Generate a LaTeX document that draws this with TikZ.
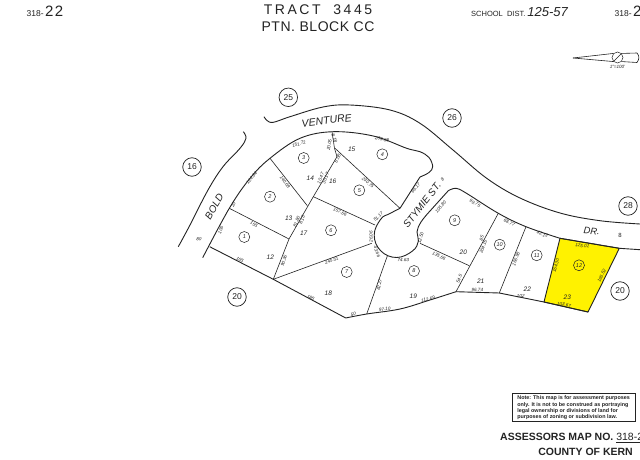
\documentclass[tikz,border=0pt]{standalone}
\usepackage{fontspec}
\setmainfont{Liberation Sans}
\usetikzlibrary{positioning}
\definecolor{parcel}{RGB}{255,242,0}
\definecolor{ink}{RGB}{35,35,35}

\begin{document}
\begin{tikzpicture}[
    x=1pt, y=-1pt,
    font=\rmfamily,
    color=ink,
    lotline/.style={draw=ink, line width=0.6pt, line join=round},
    roadline/.style={draw=ink, line width=0.9pt, line join=round},
    dim/.style={font=\fontsize{4.6}{5}\selectfont\itshape, inner sep=0pt, text=ink},
    lotno/.style={font=\fontsize{6.5}{7}\selectfont\itshape, inner sep=0pt},
    lotmark/.style={draw=ink, circle, line width=0.5pt, minimum size=11pt, inner sep=0pt, font=\fontsize{5.5}{6}\selectfont\itshape},
    pagemark/.style={draw=ink, circle, line width=0.7pt, minimum size=18.5pt, inner sep=0pt, font=\fontsize{8.5}{9}\selectfont},
    roadname/.style={font=\fontsize{10}{11}\selectfont\itshape, inner sep=0pt},
    heading/.style={font=\fontsize{14}{15}\selectfont\addfontfeature{LetterSpace=4}, inner sep=0pt},
    sheetno/.style={anchor=west, inner sep=0pt, font=\fontsize{8.5}{9}\selectfont}
]
\clip (0,0) rectangle (640,460);
\fill[white] (0,0) rectangle (640,460);

% Highlighted parcel
\path[fill=parcel, lotline, line width=0.9pt] (560,238.3) coordinate (lotTL) -- (619.3,248.3) coordinate (lotTR)
    -- (588,312) coordinate (lotBR) -- (544,302) coordinate (lotBL) -- cycle;

% Road edges
\draw[roadline] plot[smooth, tension=0.6] coordinates {(264,116.7) (267,120.5) (273.3,122.3) (290,116.7) (323,107) (350,105) (390,110) (420,123.3) (453,150) (486.7,178.3) (520,198) (560,213) (600,220.7) (640,224)};
\draw[roadline] plot[smooth, tension=0.6] coordinates {(178.3,246.7) (190,225) (208,190) (223,166.7) (240,148.3) (246,138.3) (243.3,131.7)};
\draw[roadline] plot[smooth, tension=0.6] coordinates {(202.7,257.7) (229.3,208.3) (250,178.3) (270,158.3) (300,138.3) (333.3,131.7) (373.3,136) (406.7,148.3) (420,151.7) (429,157.5) (432.7,166.7) (429,172.5) (420,177)};
\draw[roadline] (420,177) -- (400,208.3);
\draw[roadline] plot[smooth, tension=0.7] coordinates {(400,208.3) (390,213.5) (380.8,219.1) (374.2,235) (380.8,250.9) (396.7,257.5) (412.6,250.9) (418.4,241) (417,232) (421,222) (430,211)};
\draw[roadline] (430,211) -- (448.3,190.7);
\draw[roadline] plot[smooth, tension=0.6] coordinates {(448.3,190.7) (456,188.3) (466,193) (498.3,213.3) (526,226.7) (560,238.3)};
\draw[roadline] (lotTR) -- (640,249.7);
\draw[roadline] (lotTL) -- (lotTR);

% Lot boundaries
\draw[roadline] (209.7,246.7) -- (273.3,279.3) coordinate (spineA) -- (345.7,318) coordinate (southtip);
\draw[roadline] plot[smooth, tension=0.6] coordinates {(345.7,318) (366.7,314) (400,309) (430,300) (456,291.7)};
\draw[roadline] (456,291.7) coordinate (kink) -- (499.3,293) coordinate (kinkB) -- (lotBL);
\draw[roadline] (lotBL) -- (lotBR);
\draw[lotline] (270,158.3) -- (307.3,205.7);
\draw[lotline] (229.3,208.3) -- (289,239) coordinate (spineB);
\draw[lotline] (spineA) -- (spineB) -- (313.3,196.7) coordinate (spineC) -- (337,156.7) -- (334.5,148.3) -- (332,131.7);
\draw[lotline] (335,148.3) -- (400,208.3);
\draw[lotline] (spineC) -- (375,225);
\draw[lotline] (spineA) -- (371.7,243.3);
\draw[lotline] (366.7,314) -- (387.3,256);
\draw[lotline] (420,243.3) -- (469.3,265.7);
\draw[lotline] (498.3,213.3) -- (kink);
\draw[lotline] (526,226.7) -- (kinkB);

% Page references
\foreach \t/\x/\y in {25/288.3/97.3, 16/192/167, 26/452/118, 28/628/206, 20/237/297, 20/620/291} {
    \node[pagemark] at (\x,\y) {\t};
}

% Lot marks
\foreach \t/\x/\y in {1/244.3/237, 2/270/196.7, 3/303.7/158, 4/382.3/154.3, 5/359.3/190.3, 6/331/230.3, 7/346.7/272, 8/414/271, 9/454.7/220.3, 10/499.7/244.7, 11/536.7/255.3, 12/579/265.3} {
    \node[lotmark] at (\x,\y) {\t};
}

% Old lot numbers
\foreach \t/\x/\y in {12/270.3/257, 13/288.7/218.3, 14/310.3/178.3, 15/351.7/149.7, 16/332.7/181.3, 17/303.7/233.3, 18/328.3/293.3, 19/413.3/296, 20/463.3/252.7, 21/480.7/281.7, 22/527.3/289, 23/567.3/297.3} {
    \node[lotno] at (\x,\y) {\t};
}

% Dimensions
\foreach \t/\x/\y/\r in {124.04/251.7/178.3/50, 20/233.3/205/70, 105/220.7/230/70, 80/199/239.3/-10, 155/254/224.3/-28,
    165/240/260/-28, 90.36/284/260.7/72, 140.68/285/182.3/-55, 151.72/299/144/18, 239.88/382/139.3/-12,
    230.75/368/182.7/-42, 157.66/340/212/-22, 245.51/331.7/260.7/20, 185/310.7/297.7/-28, 50/353.3/314.3/5,
    97.10/384.7/309.3/5, 112.69/428/299.3/13, 74.63/403.3/260/-5, 82.27/379.3/285/77, 43.66/377/251.7/-70,
    26.06/371/236.7/90, 51.17/378.3/216.7/45, 66.17/415.7/187.7/50, 105.80/440.7/207.3/50, 99.75/475/203.3/-28,
    68.77/509.3/222.3/-25, 42.13/542.3/234.3/-20, 125.01/582.3/245.7/-8, 135.66/439/256.3/-25, 12.50/420.7/237.7/75,
    54.5/459.3/279/70, 96.74/477.3/289.7/0, 204.15/483.3/246.7/70, 85/481.7/238.3/70, 166.98/516/259/70,
    102/520.7/296/-5, 164.30/556/265.7/75, 165.52/601.7/275.7/65, 103.67/564/304.7/-10, 20.05/329.3/145/80,
    8.18/334.5/138.5/-70, 6.08/337.7/158.3/65, 10.47/320.7/178.3/70, 30.17/325.7/178.3/70, 81.80/296.7/221.7/70,
    8.18/302/220/70} {
    \node[dim, rotate=\r] at (\x,\y) {\t};
}

% Road names
\node[roadname, font=\fontsize{10.5}{11}\selectfont\itshape, rotate=7] (venture) at (326.7,120.7) {VENTURE};
\node[roadname, rotate=60] (bold) at (214.3,206.7) {BOLD};
\node[roadname, rotate=52] (stymie) at (422,205) {STYMIE ST.};
\node[roadname, font=\fontsize{9.5}{10}\selectfont\itshape, rotate=-5] (dr) at (591.7,231) {DR.};
\node[dim, rotate=52] (stwidth) at (442.5,180) {8};
\node[dim, font=\fontsize{6}{7}\selectfont] (drwidth) at (620,235) {8};

% Headings
\node[heading, font=\fontsize{14}{15}\selectfont\addfontfeature{LetterSpace=18}] (tract) at (318,9.5) {TRACT\ \ 3445};
\node[heading, below=6.5pt of tract] (block) {PTN. BLOCK CC};
\node[sheetno] (sheetL) at (26.5,11.5) {318-\,\fontsize{15}{16}\selectfont 2\kern1.5pt 2};
\node[sheetno, font=\fontsize{7.5}{8}\selectfont] (school) at (471,12) {SCHOOL\ \ DIST. \fontsize{13}{14}\selectfont\itshape 125-57};
\node[sheetno] (sheetR) at (614.5,11.5) {318-\,\fontsize{15}{16}\selectfont 2\kern1.5pt 2};

% North point
\coordinate (needle) at (573,58);
\node[draw=ink, circle, line width=0.5pt, minimum size=11pt, inner sep=0pt] (scale) at (617.5,57.5) {};
\coordinate (needleEndA) at (637,53);
\coordinate (needleEndB) at (637,62.5);
\draw[lotline] (needle) -- (scale.north west);
\draw[lotline] (needle) -- (scale.south west);
\draw[lotline] (scale.north east) -- (needleEndA);
\draw[lotline] (scale.south east) -- (needleEndB);
\draw[lotline] (needleEndA) .. controls (639.5,56) and (639.5,59) .. (needleEndB);
\draw[lotline] (scale.south west) -- (scale.north east);
\node[dim, below=2pt of scale] (scalenote) {1"=100'};

% Note and map title
\node[draw=ink, line width=0.8pt, minimum width=122.7pt, minimum height=27pt, inner sep=2pt, align=left,
    font=\fontsize{5.4}{6.3}\selectfont\bfseries] (note) at (573.6,407.8)
    {Note: This map is for assessment purposes\\only. It is not to be construed as portraying\\legal ownership or divisions of land for\\purposes of zoning or subdivision law.};
\node[anchor=west, inner sep=0pt, font=\fontsize{10.5}{11}\selectfont\bfseries] (mapno) at (500,437.7) {ASSESSORS MAP NO.\ \textmd{\underline{318-22}}};
\node[anchor=east, inner sep=0pt, font=\fontsize{10.5}{11}\selectfont\bfseries] (county) at (633,451.5) {COUNTY OF KERN};
\end{tikzpicture}
\end{document}
